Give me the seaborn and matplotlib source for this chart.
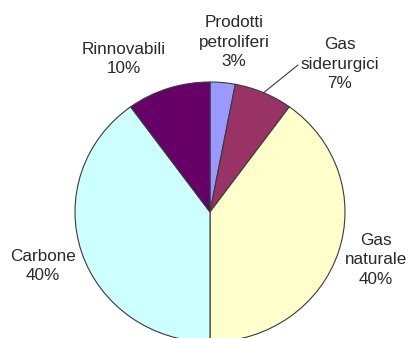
import numpy as np
import matplotlib
matplotlib.use("Agg")
import matplotlib.pyplot as plt
import seaborn as sns

# Energy sources and their shares (%)
sources = ["Prodotti\npetroliferi", "Gas\nsiderurgici", "Gas\nnaturale", "Carbone", "Rinnovabili"]
shares = [3, 7, 40, 40, 10]
colors = ["#9999FF", "#993366", "#FFFFCC", "#CCFFFF", "#660066"]

sns.set_theme(style="white")
plt.rcParams["font.family"] = ["Liberation Sans", "DejaVu Sans"]

W, H = 409, 338
fig = plt.figure(figsize=(W / 100, H / 100), dpi=100)
fig.patch.set_facecolor("white")

# pie centre and radii in pixels
cx, cy, rx, ry = 210, 212, 135, 130
ax = fig.add_axes([(cx - rx) / W, (H - cy - ry) / H, 2 * rx / W, 2 * ry / H])
ax.pie(shares, colors=colors, startangle=90, counterclock=False,
       wedgeprops=dict(edgecolor="#3a3a3a", linewidth=0.8))
ax.set_aspect("auto")
ax.set_xlim(-1, 1)
ax.set_ylim(-1, 1)
ax.axis("off")

# label anchor positions (pixels from top-left)
label_pos = [(234, 42), (340, 64), (376, 260), (43, 266), (124, 59)]
for name, val, (px, py) in zip(sources, shares, label_pos):
    fig.text(px / W, 1 - py / H, f"{name}\n{val}%", ha="center", va="center",
             multialignment="center", fontsize=12.3, color="#2a2a2a", linespacing=1.35)

# leader line for the small "Gas siderurgici" slice
cum = np.cumsum([0] + shares)
mid = (cum[1] + cum[2]) / 2 / sum(shares) * 2 * np.pi
ax.annotate("", xy=(np.sin(mid), np.cos(mid)), xycoords="data",
            xytext=(298 / W, 1 - 65 / H), textcoords="figure fraction",
            arrowprops=dict(arrowstyle="-", color="#3a3a3a", lw=0.8,
                            shrinkA=0, shrinkB=0))

fig.savefig("out.png", dpi=100)
